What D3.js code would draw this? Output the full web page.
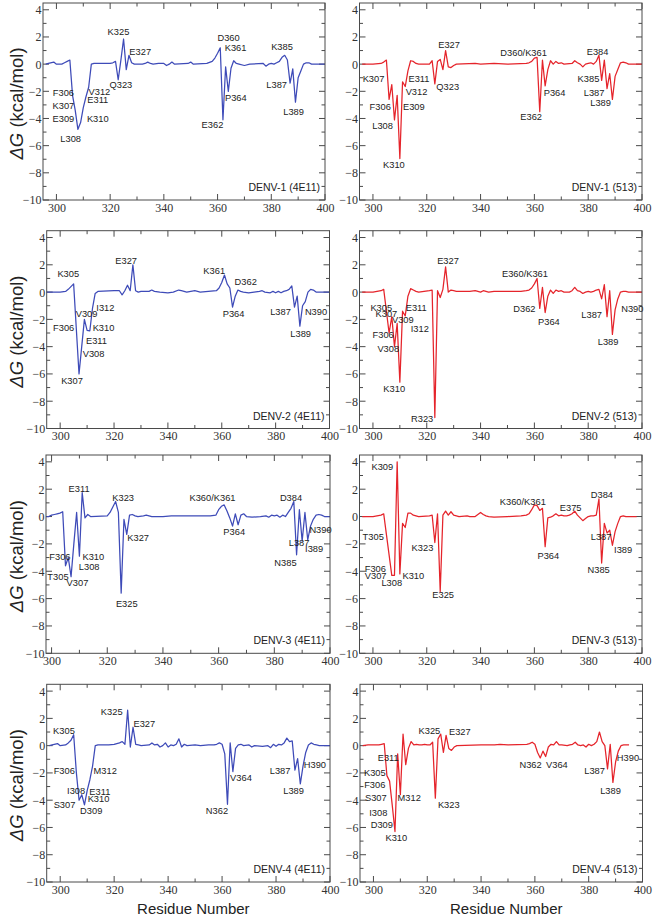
<!DOCTYPE html>
<html><head><meta charset="utf-8">
<script src="https://cdn.jsdelivr.net/npm/d3@7"></script>
<style>body{margin:0;background:#fff}svg{display:block}</style>
</head><body>
<svg id="chart" width="654" height="919"></svg>
<script>
// ---------- DATA ----------
const xTicks = [300, 320, 340, 360, 380, 400];
const yTicks = [-10, -8, -6, -4, -2, 0, 2, 4];
const xTitle = "Residue Number";
const titles = ["DENV-1 (4E11)", "DENV-1 (513)", "DENV-2 (4E11)", "DENV-2 (513)",
                "DENV-3 (4E11)", "DENV-3 (513)", "DENV-4 (4E11)", "DENV-4 (513)"];

// [residue, ΔG kcal/mol]
const d1_4E11 = [[296,0],[297,0.05],[299,0.15],[300,0],[302,0],[303,0.1],[304,0.2],[305,0.3],[306,-2.3],[307,-3.4],[308,-4.8],[309,-4.3],[310,-3.2],[311,-2.4],[312,-1.7],[313,0],[314,0.05],[318,0.05],[320,0.05],[321,0.1],[322,0.2],[323,-1.15],[324,0.3],[325,1.85],[326,-0.4],[327,0.65],[328,0.1],[329,0],[332,0],[333,0.05],[334,0.15],[335,0.05],[336,0],[338,0.05],[340,0.05],[341,-0.1],[342,0],[343,0.15],[344,0],[349,0.05],[350,0.15],[351,0],[356,0.05],[358,0.2],[359,0.45],[360,0.8],[361,1.2],[362,-4.1],[363,-0.2],[364,-2.0],[365,-0.3],[366,0.25],[367,0.05],[368,0],[370,-0.1],[372,0],[377,0.05],[378,-0.15],[379,0],[380,0.05],[381,0],[382,0.1],[383,0.2],[384,0.5],[385,0.65],[386,0.3],[387,-1.4],[388,-0.35],[389,-2.8],[390,-1.0],[391,-0.5],[392,0],[393,0.1],[394,0.1],[395,0],[400,0]];

const d1_513 = [[296,0],[300,0],[303,0.05],[304,0.15],[305,0.3],[306,-2.6],[307,-1.5],[308,-4.1],[309,-2.3],[310,-6.95],[311,-1.3],[312,-1.65],[313,-0.5],[314,0.25],[315,0.2],[316,0.05],[317,0],[321,0],[322,0.25],[323,-1.45],[324,0.2],[325,0.35],[326,-0.4],[327,1.0],[328,-0.2],[329,-0.25],[330,-0.1],[331,0],[338,0.05],[340,0],[345,0.05],[350,0],[357,0.05],[358,0.1],[359,0.2],[360,0.45],[361,0.5],[362,-3.5],[363,0.3],[364,-1.6],[365,-0.4],[366,0.25],[367,0],[368,0.2],[369,0.05],[370,0.1],[371,0],[374,0.05],[375,0.25],[376,0.1],[377,0],[378,-0.2],[379,0],[380,0.05],[381,0.1],[382,0],[383,0.2],[384,0.65],[385,-1.2],[386,0.3],[387,-1.8],[388,-0.7],[389,-2.6],[390,-0.9],[391,-0.4],[392,0.1],[393,0.15],[394,0.1],[395,0],[400,0]];

const d2_4E11 = [[295,0],[300,0],[302,0.05],[303,0.2],[304,0.4],[305,0.6],[306,-2.7],[307,-6.0],[308,-4.0],[309,-2.0],[310,-2.8],[311,-2.85],[312,-1.2],[313,-0.1],[314,0.05],[320,0.1],[322,0.1],[323,-0.2],[324,0.1],[325,0.5],[326,0.1],[327,2.0],[328,0.1],[329,0],[330,0.05],[333,0.05],[334,0.15],[335,0.05],[337,0],[340,-0.05],[342,0],[344,0.15],[345,0.1],[347,0],[350,0.1],[352,0],[355,0.05],[358,0.1],[359,0.3],[360,0.7],[361,1.25],[362,0.6],[363,0.3],[364,-1.1],[365,-0.3],[366,0.15],[367,0.05],[368,0],[370,-0.05],[372,0],[374,0.05],[375,0.1],[376,0],[378,-0.05],[379,0.05],[380,-0.05],[381,0.05],[382,-0.05],[383,0.05],[384,0.1],[385,0.2],[386,0.45],[387,-1.1],[388,-0.3],[389,-2.5],[390,-1.0],[391,-0.7],[392,0],[393,0.2],[394,0.15],[395,0],[400,0]];

const d2_513 = [[296,0],[300,0],[303,0.1],[304,0.2],[306,-3.0],[307,-1.8],[308,-4.0],[309,-2.3],[310,-6.6],[311,-1.4],[312,-1.75],[313,-0.3],[314,0.25],[315,0.15],[316,0.05],[317,0],[321,0.1],[322,0.15],[323,-9.2],[324,0.1],[325,-0.4],[326,0.2],[327,1.85],[328,0],[329,0.15],[330,0.1],[331,0.05],[336,0.05],[338,0.1],[340,0],[341,0.1],[343,0],[345,0.05],[350,0.05],[355,0.05],[357,0.1],[358,0.15],[359,0.3],[360,0.6],[361,1.0],[362,-1.2],[363,0.35],[364,-1.5],[365,-0.3],[366,0.15],[367,-0.1],[368,0.15],[369,0.05],[370,0.1],[371,0],[373,0],[374,0.1],[375,0.35],[376,0.1],[377,0.05],[378,-0.1],[379,0],[380,0.05],[381,0],[382,0.05],[383,0.15],[384,0.2],[385,-0.5],[386,0.55],[387,-1.8],[388,0.1],[389,-3.1],[390,-1.3],[391,-0.5],[392,0],[393,0.05],[394,0.05],[395,0],[400,0]];

const d3_4E11 = [[298,0],[299,0],[300,0.1],[301,0.15],[302,0.2],[303,0.25],[304,0.35],[305,-3.6],[306,-3.0],[307,-4.4],[308,-2.0],[309,0.3],[310,-2.9],[311,1.75],[312,-0.1],[313,0.15],[314,0],[320,0.05],[321,0.3],[322,0.7],[323,1.1],[324,0.3],[325,-5.6],[326,-0.2],[327,-1.3],[328,0.1],[329,0.15],[330,0.05],[331,0],[333,0.05],[334,0.1],[335,0.05],[336,0],[340,0],[343,0.05],[345,0.05],[350,0.05],[355,0.05],[357,0.05],[359,0.1],[360,0.5],[361,0.75],[362,0.85],[363,0.4],[364,-0.1],[365,-0.7],[366,0.2],[367,-0.6],[368,0.1],[369,0.2],[370,0],[372,-0.05],[375,0],[377,0.05],[378,-0.05],[379,0.1],[380,0.05],[381,0.1],[382,-0.05],[383,0.1],[384,0],[385,0.3],[386,0.6],[387,1.1],[388,-2.8],[389,0.5],[390,-1.8],[391,0.3],[392,-1.7],[393,-0.7],[394,-0.2],[395,0.1],[396,0.15],[397,0.1],[398,0],[400,0]];

const d3_513 = [[296,0],[300,0],[303,0.1],[304,0.2],[307,-4.3],[308,-4.3],[309,4.0],[310,-4.2],[311,-0.5],[312,-0.8],[313,0.25],[314,0.25],[315,0.1],[316,0.05],[317,0],[321,0.05],[322,0.1],[323,-1.9],[324,0.2],[325,-5.5],[326,0.1],[327,0.4],[328,0.1],[329,0.35],[330,0.1],[331,0.05],[332,0],[335,0.05],[336,0],[338,0],[339,0.15],[340,0.3],[341,0.15],[342,0.05],[343,0],[345,-0.05],[350,0],[355,0.05],[357,0.1],[358,0.2],[359,0.5],[360,0.85],[361,0.8],[362,0.45],[363,0.6],[364,-2.2],[365,-0.1],[366,-0.05],[367,0.05],[368,0.2],[369,0.05],[370,0.1],[371,0.05],[372,0.05],[373,0.1],[374,0.2],[375,0.4],[376,0.1],[377,-0.1],[378,-0.3],[379,-0.15],[380,0],[381,0.05],[382,0.05],[383,0.1],[384,1.3],[385,-3.4],[386,-0.5],[387,-1.2],[388,-1.0],[389,-2.1],[390,-1.1],[391,-0.5],[392,0],[393,0.05],[394,0],[398,0]];

const d4_4E11 = [[296,0],[297,0.05],[299,0.15],[300,0],[302,0.05],[303,0.2],[304,0.4],[305,0.8],[306,-2.0],[307,-4.0],[308,-3.6],[309,-4.35],[310,-3.3],[311,-2.5],[312,-1.5],[313,0],[314,0.05],[318,0.05],[320,0.1],[322,0.2],[323,0.3],[324,0.1],[325,2.6],[326,-0.1],[327,1.35],[328,0.1],[329,0.05],[330,0],[333,0.05],[334,0.2],[335,0.05],[336,0.1],[337,-0.1],[338,0],[339,0.2],[340,-0.1],[341,0.05],[342,0],[343,0.1],[344,0.5],[345,-0.1],[346,0.1],[347,0],[350,0.05],[352,0],[355,0.05],[357,0.05],[358,0.1],[359,0.2],[360,0.1],[361,-0.6],[362,-4.3],[363,0.2],[364,-1.9],[365,-0.2],[366,0.05],[367,0.1],[368,0],[370,0.05],[371,-0.1],[372,0],[375,-0.05],[377,0],[378,-0.15],[379,0.1],[380,-0.05],[381,0.1],[382,0.05],[383,0.2],[384,0.55],[385,0.3],[386,0.35],[387,-1.8],[388,-0.95],[389,-2.8],[390,-1.5],[391,-0.5],[392,0.05],[393,0.2],[394,0.1],[395,0.05],[396,0],[400,0]];

const d4_513 = [[296,0],[298,0.05],[300,0.05],[302,0.05],[303,0.1],[304,0.15],[305,-2.2],[306,-2.6],[307,-4.4],[308,-6.3],[309,-0.6],[310,-3.6],[311,0.85],[312,-1.4],[313,-0.2],[314,0.3],[315,0.05],[316,0.1],[317,0.05],[318,0.05],[319,0.1],[320,0.05],[321,0.05],[322,0.25],[323,-3.85],[324,0.5],[325,0.85],[326,-0.5],[327,0.75],[328,-0.2],[329,-0.35],[330,-0.1],[331,0],[340,0.05],[345,0.05],[347,0.1],[350,0.05],[357,0.1],[358,0.15],[359,0.25],[360,0.1],[361,-0.5],[362,-0.9],[363,-0.4],[364,-0.8],[365,-0.1],[366,0.1],[367,0.05],[368,0.3],[369,0.05],[370,0.05],[372,0],[373,0.05],[374,0.1],[375,0.25],[376,0.05],[377,0],[378,0.05],[379,-0.1],[380,0.1],[381,0],[382,0.1],[383,0.3],[384,1.0],[385,0.3],[386,0],[387,-1.7],[388,0.1],[389,-2.7],[390,-1.2],[391,-0.4],[392,0],[393,0.05],[394,0.05],[395,0.05]];

const seriesList = [d1_4E11, d1_513, d2_4E11, d2_513, d3_4E11, d3_513, d4_4E11, d4_513];

// residue annotations: [text, residue, ΔG] (label centre)
const ann1_4E11 = [["F306",302.6,-2.07],["K307",302.6,-3.05],["E309",302.6,-3.98],["L308",305.3,-5.5],["V312",316,-2.02],["E311",315.4,-2.6],["K310",315.4,-3.98],["K325",323.1,2.37],["E327",331.2,0.9],["Q323",324,-1.54],["D360",364.1,1.93],["K361",366.7,1.22],["P364",366.8,-2.5],["E362",358.1,-4.46],["K385",384,1.32],["L387",382,-1.54],["L389",388.3,-3.49]];
const ann1_513 = [["K307",300.2,-1.1],["F306",302.7,-3.1],["L308",303.6,-4.56],["K310",307.8,-7.41],["E309",315.2,-3.1],["E311",317.1,-1.05],["V312",316.2,-2.02],["Q323",327.8,-1.63],["E327",328.3,1.41],["D360/K361",356,0.88],["E362",358.8,-3.9],["P364",367.5,-2.07],["E384",383.5,0.93],["K385",380.1,-1.07],["L387",382.2,-2.07],["L389",384.6,-2.8]];
const ann2_4E11 = [["K305",303,1.32],["V309",309.8,-1.56],["I312",316.8,-1.12],["F306",301.3,-2.59],["K310",316.1,-2.59],["E311",313.5,-3.56],["V308",312.4,-4.54],["K307",304.4,-6.49],["E327",324.5,2.29],["K361",357.2,1.56],["D362",368.9,0.76],["P364",364.4,-1.61],["L387",381.8,-1.46],["N390",395,-1.46],["L389",389.3,-3.07]];
const ann2_513 = [["K305",303.1,-1.12],["K307",305,-1.61],["V309",311.1,-2.05],["F306",303.8,-3.15],["V308",305.7,-4.12],["K310",307.9,-7.05],["E311",316.1,-1.12],["I312",317.4,-2.68],["R323",318.3,-9.27],["E327",327.9,2.29],["E360/K361",356.5,1.32],["D362",356.3,-1.2],["P364",365.4,-2.17],["L387",381.3,-1.68],["L389",387.4,-3.63],["N390",396.4,-1.2]];
const ann3_4E11 = [["E311",309.9,2.01],["K323",325.7,1.4],["K327",331.1,-1.55],["E325",327,-6.39],["F306",303,-2.9],["K310",315,-2.9],["L308",313.5,-3.68],["T305",302.3,-4.41],["V307",309.3,-4.84],["K360/K361",357.8,1.4],["P364",365.6,-1.07],["D384",386,1.4],["N390",396.6,-0.97],["L387",388.9,-1.94],["I389",394.3,-2.37],["N385",384,-3.39]];
const ann3_513 = [["K309",303.5,3.66],["T305",300.1,-1.46],["F306",300.9,-3.8],["V307",301,-4.34],["L308",307,-4.83],["K310",315,-4.29],["K323",318.4,-2.29],["E325",326.1,-5.71],["K360/K361",355.7,1.12],["E375",373.5,0.63],["P364",365.2,-2.83],["D384",385.1,1.61],["L387",384.8,-1.46],["I389",393,-2.44],["N385",383.9,-3.85]];
const ann4_4E11 = [["K305",301.4,1.12],["F306",301.5,-1.83],["M312",316.7,-1.83],["I308",305.9,-3.29],["E311",314.7,-3.34],["K310",314.2,-3.9],["S307",301.6,-4.32],["D309",311.5,-4.8],["K325",319.1,2.51],["E327",331.2,1.61],["N362",358.1,-4.8],["V364",367,-2.32],["L387",381.5,-1.83],["H390",394.4,-1.39],["L389",386.5,-3.29]];
const ann4_513 = [["E311",305.5,-0.88],["K305",300.5,-1.98],["F306",300.5,-2.88],["S307",300.9,-3.8],["I308",301.8,-4.9],["D309",303.1,-5.8],["K310",308.5,-6.78],["M312",313.3,-3.8],["K325",320.8,1.1],["E327",332.1,1.02],["K323",328,-4.34],["N362",358.4,-1.37],["V364",368.2,-1.37],["L387",382.2,-1.85],["L389",388.1,-3.32],["H390",394.6,-0.88]];
const annList = [ann1_4E11, ann1_513, ann2_4E11, ann2_513, ann3_4E11, ann3_513, ann4_4E11, ann4_513];

// x-domain start per panel
const xStart = [295, 295, 295, 295, 298, 295, 295, 295];
const xEnd = 400;
const yDomain = [-10, 4.5];

// ---------- LAYOUT ----------
const BLUE = "#3e4bb8", RED = "#e5242b";
const frames = [
  [43, 325, 3, 200], [359.5, 642, 3, 200],
  [46.7, 329.5, 230.7, 428.5], [359.5, 642, 230.7, 428.5],
  [46, 330, 455, 653.3], [359.5, 642, 455, 653.3],
  [46.7, 330, 684.3, 882], [360, 642.5, 684.3, 882]
];

const svg = d3.select("#chart");
const FRAME = "#4a4a4a";

frames.forEach((f, i) => {
  const [x0, x1, y0, y1] = f;
  const color = i % 2 === 0 ? BLUE : RED;
  const x = d3.scaleLinear().domain([xStart[i], xEnd]).range([x0, x1]);
  const y = d3.scaleLinear().domain(yDomain).range([y1, y0]);
  const g = svg.append("g");

  const majX = xTicks, minX = d3.range(310, 400, 20);
  const majY = yTicks, minY = d3.range(-9, 5, 2);

  // bottom axis with labels
  const ax = d3.axisBottom(x).tickValues(majX).tickSize(0).tickPadding(0).tickFormat(d3.format("d"));
  const gx = g.append("g").attr("transform", `translate(0,${y1})`).call(ax);
  gx.select(".domain").remove();
  gx.selectAll("text").attr("dy", null).attr("y", 11.5)
    .attr("font-family", "'Liberation Serif','Times New Roman',serif").attr("font-size", 12).attr("fill", "#333");

  const ay = d3.axisLeft(y).tickValues(majY).tickSize(0).tickPadding(0);
  const gy = g.append("g").attr("transform", `translate(${x0 - 1.5},0)`).call(ay);
  gy.select(".domain").remove();
  gy.selectAll("text").attr("dy", "0.33em").attr("x", 0)
    .attr("font-family", "'Liberation Serif','Times New Roman',serif").attr("font-size", 12).attr("fill", "#333");

  // inward ticks on all four sides
  const tk = g.append("g").attr("stroke", FRAME).attr("stroke-width", 1);
  const addX = (vals, len) => vals.forEach(v => {
    tk.append("line").attr("x1", x(v)).attr("x2", x(v)).attr("y1", y1).attr("y2", y1 - len);
    tk.append("line").attr("x1", x(v)).attr("x2", x(v)).attr("y1", y0).attr("y2", y0 + len);
  });
  const addY = (vals, len) => vals.forEach(v => {
    tk.append("line").attr("y1", y(v)).attr("y2", y(v)).attr("x1", x0).attr("x2", x0 + len);
    tk.append("line").attr("y1", y(v)).attr("y2", y(v)).attr("x1", x1).attr("x2", x1 - len);
  });
  addX(majX, 6); addX(minX, 3.5); addY(majY, 6); addY(minY, 3.5);

  // data line
  const line = d3.line().x(d => x(d[0])).y(d => y(d[1]));
  g.append("path").datum(seriesList[i]).attr("d", line)
    .attr("fill", "none").attr("stroke", color).attr("stroke-width", 1.25).attr("stroke-linejoin", "round");

  // frame
  g.append("rect").attr("x", x0).attr("y", y0).attr("width", x1 - x0).attr("height", y1 - y0)
    .attr("fill", "none").attr("stroke", FRAME).attr("stroke-width", 1);

  // annotations
  g.append("g").selectAll("text").data(annList[i]).join("text")
    .attr("x", d => x(d[1])).attr("y", d => y(d[2])).attr("dy", "0.36em")
    .attr("text-anchor", "middle")
    .attr("font-family", "'Liberation Sans',Arial,sans-serif").attr("font-size", 9.3).attr("fill", "#222")
    .text(d => d[0]);

  // panel title
  g.append("text").attr("x", x1 - 5).attr("y", y1 - 9).attr("text-anchor", "end")
    .attr("font-family", "'Liberation Sans',Arial,sans-serif").attr("font-size", 10.5).attr("fill", "#222")
    .text(titles[i]);

  // y title (left column)
  if (i % 2 === 0) {
    const t = svg.append("text").attr("transform", `translate(17,${(y0 + y1) / 2 + 2}) rotate(-90)`)
      .attr("text-anchor", "middle").attr("dy", "0.35em")
      .attr("font-family", "'Liberation Sans',Arial,sans-serif").attr("font-size", 18.5).attr("fill", "#222");
    t.append("tspan").attr("font-style", "italic").text("ΔG");
    t.append("tspan").text(" (kcal/mol)");
  }
  // x title (bottom row)
  if (i >= 6) {
    svg.append("text").attr("x", (x0 + x1) / 2 + 5).attr("y", 914).attr("text-anchor", "middle")
      .attr("font-family", "'Liberation Sans',Arial,sans-serif").attr("font-size", 15).attr("fill", "#222")
      .text(xTitle);
  }
});
</script>
</body></html>
